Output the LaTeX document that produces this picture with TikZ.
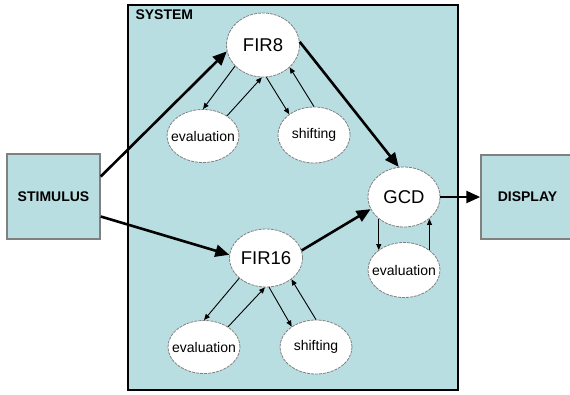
\documentclass[tikz,border=0pt]{standalone}
\usepackage{fontspec}
\setmainfont{Liberation Sans}
\usetikzlibrary{arrows.meta,shapes.geometric}
\definecolor{sysblue}{RGB}{184,222,226}
\newcommand{\inell}[1]{\makebox[0pt]{#1}}

\begin{document}
\begin{tikzpicture}[x=1pt,y=-1pt,
    blockbox/.style={draw=gray,line width=1.5pt,fill=sysblue,minimum width=93pt,
      minimum height=85pt,font=\fontsize{14}{16}\selectfont\bfseries},
    unit/.style={ellipse,draw=gray,line width=0.8pt,dash pattern=on 3pt off 1pt,
      fill=white,inner sep=0pt,minimum width=73pt,minimum height=62pt,
      font=\fontsize{18.5}{20}\selectfont},
    task/.style={unit,minimum width=72pt,minimum height=55pt,
      font=\fontsize{14}{16}\selectfont},
    bigarrow/.style={line width=2.6pt,-{Triangle[length=14pt,width=12pt]}},
    smallarrow/.style={line width=0.9pt,-{Triangle[length=6pt,width=5pt]}}]
  \useasboundingbox (0,0) rectangle (570,394);
  % the system and the two outer boxes
  \node[draw,line width=2pt,fill=sysblue,minimum width=330pt,minimum height=385pt] (system) at (293,197.5) {};
  \node[anchor=west,font=\fontsize{14}{16}\selectfont\bfseries] (systemlabel) at (132,15) {SYSTEM};
  \node[blockbox] (stimulus) at (53.5,196.5) {STIMULUS};
  \node[blockbox,minimum height=84pt] (display) at (527.5,197) {DISPLAY};
  % filters
  \node[unit,minimum height=64pt] (fir8) at (263,45) {\inell{FIR8}};
  \node[task,minimum height=53pt] (evaltop) at (203,136) {\inell{evaluation}};
  \node[task,minimum height=56pt] (shifttop) at (314,135) {\inell{shifting}};
  \node[unit,minimum height=58pt] (fir16) at (266,258) {\inell{FIR16}};
  \node[task,minimum height=53pt] (evalbot) at (204,347) {\inell{evaluation}};
  \node[task,minimum height=54pt] (shiftbot) at (316,347) {\inell{shifting}};
  \node[unit,minimum width=72pt,minimum height=60pt] (gcd) at (404,197) {\inell{GCD}};
  \node[task] (evalgcd) at (404,270) {\inell{evaluation}};
  % main data flow
  \draw[bigarrow] ([yshift=20pt]stimulus.east) -- (fir8.190);
  \draw[bigarrow] ([yshift=-20pt]stimulus.east) -- (fir16.175);
  \draw[bigarrow] (fir8.5) -- (gcd.100);
  \draw[bigarrow] (fir16.12) -- (gcd.200);
  \draw[bigarrow] (gcd.east) -- (display.west);
  % loops round each unit
  \foreach \f/\e/\s in {fir8/evaltop/shifttop,fir16/evalbot/shiftbot}{
    \draw[smallarrow] (\f.217) -- (\e.north);
    \draw[smallarrow] (\e.40) -- (\f.268);
    \draw[smallarrow] (\f.276) -- (\s.140);
    \draw[smallarrow] (\s.north) -- (\f.320);}
  \draw[smallarrow] (gcd.221) -- (gcd.221 |- evalgcd.142);
  \draw[smallarrow] (evalgcd.38) -- (evalgcd.38 |- gcd.319);
\end{tikzpicture}
\end{document}
